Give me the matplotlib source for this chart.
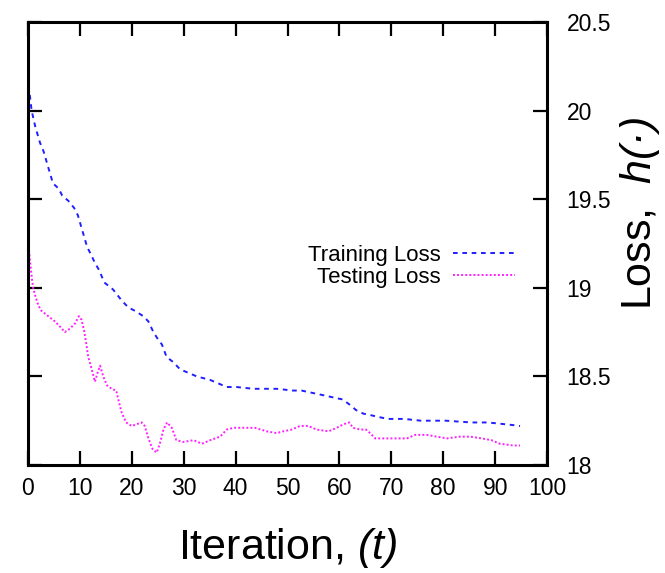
#!/usr/bin/env python3

"""
Training and testing loss against iteration, gnuplot-style box with the
loss axis on the right.
"""

import matplotlib as mpl
import matplotlib.pyplot as plt
from matplotlib.ticker import FormatStrFormatter, MultipleLocator

mpl.use("Agg")

# Values
train_iter = [0, 0.3, 0.7, 1.4, 2.3, 3.0, 3.9, 4.8, 5.9, 6.6,
              7.8, 8.9, 9.6, 10.5, 11.4, 12.1, 12.9, 13.7, 14.7, 16.4,
              18.0, 19.3, 20.6, 22.2, 23.2, 24.0, 24.8, 25.8, 26.7, 28.0,
              29.3, 30.9, 32.5, 35.1, 38.3, 40.2, 43.4, 47.9, 51.1, 52.7,
              54.3, 57.5, 59.0, 60.6, 62.0, 63.2, 64.6, 66.2, 67.7, 69.3,
              72.5, 75.7, 80.5, 85.4, 88.6, 90.3, 93.5, 94.8]
train_loss = [20.14, 20.10, 20.00, 19.91, 19.82, 19.77, 19.68, 19.59, 19.56, 19.52,
              19.49, 19.45, 19.41, 19.32, 19.23, 19.19, 19.14, 19.10, 19.03, 18.99,
              18.93, 18.89, 18.87, 18.84, 18.81, 18.76, 18.72, 18.68, 18.61, 18.58,
              18.54, 18.52, 18.50, 18.48, 18.44, 18.44, 18.43, 18.43, 18.42, 18.42,
              18.41, 18.39, 18.38, 18.37, 18.34, 18.31, 18.29, 18.28, 18.27, 18.26,
              18.26, 18.25, 18.25, 18.24, 18.24, 18.235, 18.225, 18.22]

test_iter = [0, 0.2, 0.5, 0.8, 1.0, 1.35, 2.0, 2.6, 3.9, 5.2,
             6.2, 7.1, 8.1, 9.1, 9.8, 10.3, 10.8, 11.2, 11.6, 12.1,
             12.9, 13.4, 13.9, 14.5, 15.2, 16.1, 17.0, 17.4, 18.0, 18.9,
             20.0, 20.9, 21.9, 22.5, 23.2, 24.0, 24.8, 25.4, 26.1, 26.8,
             27.7, 28.6, 29.9, 31.9, 33.5, 35.1, 37.0, 38.3, 39.6, 41.5,
             43.7, 46.0, 47.9, 49.2, 50.8, 52.4, 54.0, 55.6, 57.9, 59.5,
             60.8, 61.9, 62.6, 64.0, 65.1, 65.9, 66.9, 70.1, 73.0, 74.6,
             76.8, 78.7, 80.7, 83.2, 85.2, 87.4, 89.3, 90.9, 93.5, 94.8]
test_loss = [19.28, 19.21, 19.12, 19.04, 19.00, 18.96, 18.90, 18.87, 18.84, 18.81,
             18.78, 18.75, 18.77, 18.80, 18.84, 18.82, 18.76, 18.69, 18.61, 18.56,
             18.47, 18.52, 18.56, 18.50, 18.45, 18.43, 18.42, 18.37, 18.30, 18.24,
             18.22, 18.23, 18.24, 18.22, 18.15, 18.09, 18.07, 18.12, 18.20, 18.24,
             18.21, 18.14, 18.13, 18.14, 18.12, 18.14, 18.16, 18.20, 18.21, 18.21,
             18.21, 18.19, 18.18, 18.19, 18.20, 18.22, 18.22, 18.20, 18.19, 18.21,
             18.23, 18.24, 18.21, 18.20, 18.20, 18.18, 18.15, 18.15, 18.15, 18.17,
             18.17, 18.16, 18.15, 18.16, 18.16, 18.15, 18.14, 18.12, 18.11, 18.11]

labels = ["Training Loss", "Testing Loss"]


def main():
    """Entry point."""
    plt.rcParams["font.family"] = ["Liberation Sans", "DejaVu Sans"]
    # math parts of the labels are fully italic, parentheses included
    plt.rcParams["mathtext.fontset"] = "custom"
    plt.rcParams["mathtext.rm"] = "Liberation Sans:italic"
    plt.rcParams["mathtext.it"] = "Liberation Sans:italic"

    fig = plt.figure(figsize=(6.65, 5.73), dpi=100)
    ax = fig.add_axes([0.0421, 0.1885, 0.7805, 0.7731])

    ax.plot(train_iter, train_loss, color="#1f1fff", lw=1.4,
            dashes=(2.4, 2.4), label=labels[0])
    ax.plot(test_iter, test_loss, color="#ff1fff", lw=1.4,
            dashes=(1, 1.1), label=labels[1])

    ax.set_xlim(0, 100)
    ax.set_ylim(18, 20.5)
    ax.xaxis.set_major_locator(MultipleLocator(10))
    ax.yaxis.set_major_locator(MultipleLocator(0.5))
    ax.yaxis.set_major_formatter(FormatStrFormatter("%g"))

    for s in ax.spines.values():
        s.set_linewidth(2.2)
    ax.tick_params(direction="in", length=10, width=1.6, top=True, right=True,
                   labelsize=16.5, colors="black")
    ax.tick_params(axis="y", left=True, labelleft=False, labelright=True, pad=14)
    ax.tick_params(axis="x", pad=9)

    ax.set_xlabel("Iteration, $(t)$", fontsize=31)
    ax.xaxis.set_label_coords(0.5, -0.187)
    ax.xaxis.label.set(va="center", ha="center")

    ax.yaxis.set_label_position("right")
    ax.set_ylabel("Loss,  $h(·)$", fontsize=31)
    ax.yaxis.set_label_coords(1.179, 0.567)
    ax.yaxis.label.set(va="center", ha="center")

    ax.legend(loc="center right", bbox_to_anchor=(0.938, 0.449), frameon=False,
              markerfirst=False, fontsize=16, handlelength=2.8,
              handletextpad=0.55, labelspacing=0.05, borderpad=0,
              borderaxespad=0)

    fig.savefig("out.png", dpi=100)


if __name__ == "__main__":
    main()
